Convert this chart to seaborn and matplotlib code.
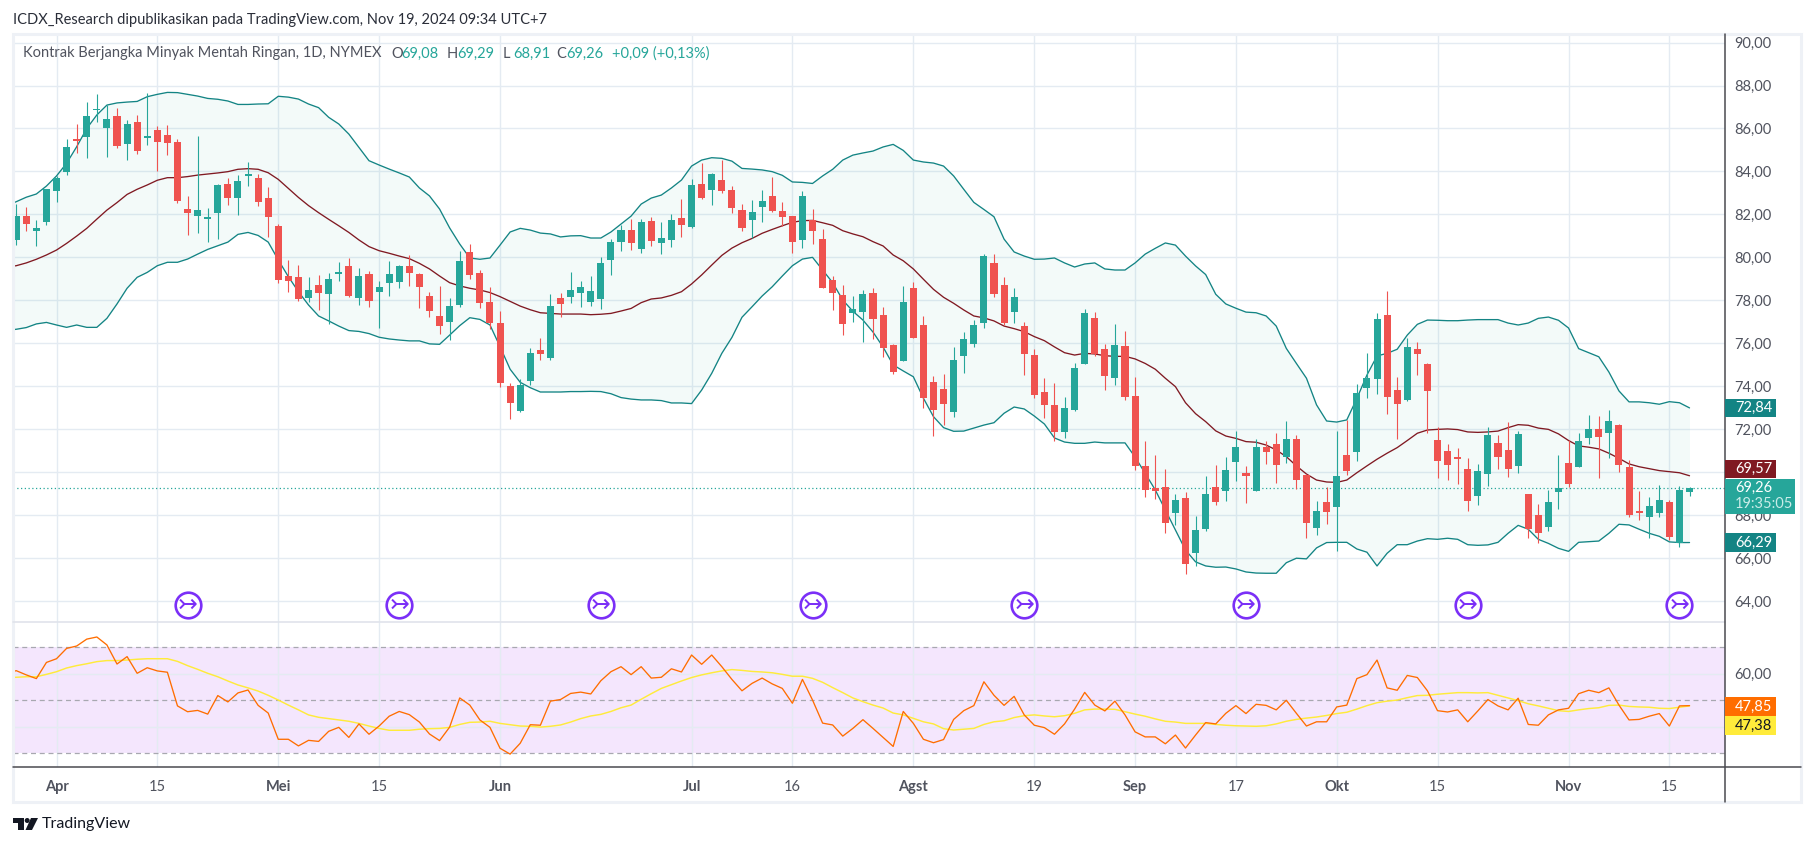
import numpy as np
import pandas as pd
import matplotlib
matplotlib.use("Agg")
import matplotlib.pyplot as plt
from matplotlib.patches import Rectangle, Polygon, Circle
import seaborn as sns

# OHLC of the daily bars, 167 sessions from late March to Nov 19 2024
opens = [
    80.81, 81.92, 81.23, 81.65, 83.09, 83.97, 85.46, 85.60, 86.84, 86.02,
    86.58, 85.28, 86.30, 85.57, 85.93, 85.70, 85.37, 82.25, 81.92, 81.80,
    82.06, 83.41, 82.76, 83.80, 83.69, 82.76, 81.46, 79.13, 79.08, 78.11,
    78.71, 78.29, 79.24, 79.60, 78.11, 79.22, 78.39, 78.81, 78.85, 79.60,
    79.22, 78.20, 77.27, 76.99, 77.78, 80.25, 79.27, 77.92, 76.94, 74.01,
    72.85, 74.24, 75.69, 75.31, 78.11, 78.15, 78.34, 77.92, 78.06, 79.88,
    80.71, 81.27, 80.39, 81.69, 80.67, 80.81, 81.83, 81.40, 83.41, 83.13,
    83.60, 83.13, 82.20, 81.74, 82.34, 82.86, 82.16, 81.92, 80.81, 81.74,
    80.85, 78.94, 78.25, 77.39, 77.45, 78.34, 77.32, 75.92, 75.17, 78.57,
    76.85, 74.20, 73.87, 72.80, 75.41, 75.97, 76.94, 79.74, 78.71, 77.45,
    76.80, 75.45, 73.73, 73.13, 71.87, 72.89, 75.03, 77.18, 75.73, 74.38,
    75.87, 73.54, 70.29, 69.26, 69.31, 68.10, 68.80, 66.24, 67.35, 69.31,
    69.12, 70.47, 69.96, 69.12, 71.17, 71.31, 70.70, 71.54, 69.87, 67.40,
    68.61, 68.38, 70.80, 70.94, 73.92, 74.34, 77.32, 73.82, 73.36, 75.73,
    75.03, 71.50, 70.98, 70.66, 70.15, 68.89, 69.91, 71.36, 71.03, 70.29,
    68.98, 68.00, 67.45, 69.08, 70.43, 70.24, 71.59, 72.01, 71.82, 72.19,
    70.24, 68.14, 67.91, 68.10, 68.61, 66.70, 69.08,
]
highs = [
    82.48, 82.34, 81.74, 83.18, 83.79, 85.51, 86.21, 87.23, 87.60, 87.09,
    86.95, 86.39, 86.63, 87.65, 86.11, 86.16, 85.51, 82.86, 85.65, 82.30,
    83.41, 83.69, 83.83, 84.44, 83.88, 83.27, 81.55, 79.88, 79.64, 79.08,
    79.18, 79.26, 79.78, 79.97, 79.50, 79.36, 78.90, 79.83, 79.64, 80.11,
    79.27, 78.39, 78.67, 78.11, 80.29, 80.62, 79.41, 78.62, 77.50, 74.15,
    74.34, 75.78, 76.24, 78.29, 78.34, 79.32, 78.90, 79.13, 80.02, 80.85,
    81.51, 81.78, 81.78, 81.88, 81.64, 82.02, 82.72, 83.65, 84.39, 83.93,
    84.53, 83.32, 82.48, 82.67, 83.13, 83.74, 82.58, 81.92, 83.09, 82.25,
    81.32, 79.13, 78.71, 78.20, 78.48, 78.57, 77.69, 75.97, 78.67, 78.85,
    77.27, 74.48, 74.57, 75.83, 76.52, 77.08, 80.15, 80.15, 79.08, 78.57,
    76.99, 75.73, 74.38, 74.15, 73.50, 75.08, 77.59, 77.45, 75.97, 76.90,
    76.57, 74.43, 71.45, 70.80, 70.15, 68.98, 69.08, 67.96, 69.82, 70.33,
    70.70, 71.91, 70.29, 71.54, 71.45, 71.82, 72.38, 71.73, 69.91, 68.66,
    69.31, 71.91, 72.43, 74.10, 75.55, 77.41, 78.43, 74.43, 76.24, 76.06,
    75.08, 72.10, 71.31, 71.12, 70.66, 70.38, 72.10, 71.73, 72.33, 71.91,
    68.98, 68.52, 69.17, 70.80, 71.50, 71.82, 72.66, 72.61, 72.89, 72.24,
    70.56, 69.12, 68.84, 69.40, 68.70, 69.35, 69.29,
]
lows = [
    80.57, 81.23, 80.53, 81.51, 82.58, 83.83, 84.86, 84.62, 86.30, 84.67,
    85.09, 84.53, 84.81, 85.23, 84.02, 84.76, 82.53, 81.04, 81.13, 80.71,
    80.85, 82.44, 81.97, 83.32, 82.39, 80.95, 78.81, 78.39, 77.97, 77.92,
    77.55, 76.90, 78.90, 78.15, 77.78, 77.69, 76.71, 78.20, 78.57, 78.67,
    77.64, 77.22, 76.43, 76.15, 77.69, 78.99, 77.64, 76.66, 73.96, 72.47,
    72.80, 74.06, 75.22, 75.22, 77.22, 77.87, 77.69, 77.73, 77.60, 79.18,
    80.29, 80.34, 80.20, 80.53, 80.15, 80.48, 80.95, 81.37, 82.72, 82.44,
    82.99, 82.06, 81.23, 80.90, 81.64, 82.11, 81.46, 80.20, 80.43, 80.62,
    78.57, 77.55, 76.38, 76.99, 76.06, 76.20, 75.36, 74.57, 75.17, 76.24,
    72.99, 71.68, 72.19, 72.57, 74.62, 75.83, 76.71, 78.15, 76.85, 76.94,
    74.52, 73.45, 72.52, 71.45, 71.59, 72.85, 75.03, 75.41, 73.82, 74.06,
    73.36, 70.10, 68.84, 68.75, 67.17, 67.54, 65.26, 65.63, 67.26, 68.47,
    68.66, 69.59, 68.56, 69.12, 70.38, 69.49, 70.43, 69.22, 66.93, 67.07,
    67.59, 66.33, 69.87, 70.52, 73.45, 73.64, 72.71, 71.54, 73.31, 74.52,
    71.82, 69.73, 69.63, 69.45, 68.19, 68.47, 69.35, 70.15, 69.77, 69.96,
    66.93, 66.70, 67.26, 68.28, 69.31, 70.24, 71.31, 69.73, 70.66, 70.00,
    67.91, 67.77, 66.93, 67.91, 66.84, 66.51, 68.91,
]
closes = [
    81.92, 81.55, 81.37, 83.18, 83.69, 85.14, 85.42, 86.58, 86.91, 86.44,
    85.18, 86.21, 84.95, 85.65, 85.37, 85.32, 82.62, 82.06, 82.20, 81.88,
    83.37, 82.76, 83.55, 83.85, 82.58, 81.88, 78.94, 78.90, 78.06, 78.48,
    78.34, 78.99, 79.27, 78.20, 79.13, 77.97, 78.62, 79.22, 79.60, 79.27,
    78.62, 77.50, 76.80, 77.73, 79.83, 79.18, 77.87, 76.94, 74.15, 73.22,
    74.06, 75.55, 75.50, 77.73, 77.83, 78.48, 78.62, 78.43, 79.74, 80.71,
    81.27, 80.67, 81.64, 80.76, 80.90, 81.74, 81.51, 83.37, 82.76, 83.88,
    83.09, 82.30, 81.37, 82.11, 82.62, 82.16, 81.88, 80.71, 82.86, 81.23,
    78.57, 78.34, 76.90, 77.59, 78.29, 77.13, 75.78, 74.66, 77.92, 76.24,
    73.45, 72.89, 73.17, 75.22, 76.20, 76.85, 80.06, 78.29, 76.94, 78.15,
    75.50, 73.59, 73.13, 71.87, 72.99, 74.85, 77.41, 75.50, 74.48, 75.92,
    73.50, 70.29, 69.17, 69.12, 67.63, 68.70, 65.72, 67.31, 68.98, 68.61,
    70.10, 71.17, 69.82, 71.17, 70.94, 70.33, 71.54, 69.63, 67.63, 68.19,
    68.14, 69.82, 70.05, 73.68, 74.38, 77.13, 73.50, 73.17, 75.83, 75.50,
    73.78, 70.52, 70.33, 70.61, 68.66, 70.05, 71.73, 70.70, 70.15, 71.78,
    67.35, 67.17, 68.61, 69.26, 69.45, 71.45, 72.01, 71.64, 72.38, 70.33,
    68.00, 68.10, 68.42, 68.70, 66.98, 69.17, 69.26,
]

# Bollinger bands, first value belongs to the bar just left of the visible range
bb_upper = [
    82.40, 82.59, 82.80, 82.95, 83.32, 83.79, 84.38, 85.15, 86.00, 86.63, 87.09,
    87.19, 87.23, 87.26, 87.48, 87.59, 87.68, 87.67, 87.59, 87.51, 87.40,
    87.36, 87.28, 87.12, 87.12, 87.14, 87.15, 87.50, 87.46, 87.37, 87.14,
    86.97, 86.52, 86.21, 85.74, 85.12, 84.50, 84.30, 84.11, 83.93, 83.74,
    83.23, 82.86, 82.25, 81.37, 80.62, 79.97, 79.91, 79.97, 80.57, 81.18,
    81.35, 81.27, 81.13, 81.09, 80.95, 81.00, 81.01, 80.90, 80.90, 81.18,
    81.55, 81.92, 82.48, 82.76, 82.90, 83.23, 83.60, 84.25, 84.53, 84.64,
    84.61, 84.48, 84.14, 84.11, 84.07, 83.99, 83.82, 83.51, 83.49, 83.44,
    83.79, 84.10, 84.53, 84.76, 84.86, 84.95, 85.14, 85.26, 84.98, 84.53,
    84.44, 84.39, 84.25, 83.79, 83.17, 82.56, 82.23, 81.89, 80.85, 80.25,
    80.06, 79.91, 79.92, 79.97, 79.74, 79.55, 79.69, 79.74, 79.46, 79.41,
    79.41, 79.74, 80.15, 80.42, 80.67, 80.57, 80.06, 79.60, 79.20, 78.28,
    77.83, 77.63, 77.45, 77.42, 77.27, 76.80, 75.76, 75.06, 74.37, 73.13,
    72.38, 72.33, 72.43, 73.43, 74.52, 75.41, 75.53, 75.72, 76.38, 76.88,
    77.08, 77.07, 77.05, 77.05, 77.08, 77.10, 77.10, 77.10, 76.94, 76.85,
    76.94, 77.16, 77.22, 77.07, 76.71, 75.75, 75.56, 75.37, 74.66, 73.78,
    73.27, 73.27, 73.23, 73.16, 73.28, 73.23, 72.99,
]
bb_basis = [
    79.55, 79.61, 79.74, 79.91, 80.11, 80.34, 80.65, 80.99, 81.35, 81.78, 82.20,
    82.55, 82.93, 83.17, 83.37, 83.59, 83.71, 83.71, 83.76, 83.83, 83.88,
    83.93, 83.99, 84.10, 84.13, 84.10, 83.94, 83.63, 83.21, 82.79, 82.41,
    82.08, 81.77, 81.47, 81.16, 80.81, 80.50, 80.31, 80.19, 80.06, 79.94,
    79.72, 79.46, 79.13, 78.82, 78.67, 78.56, 78.48, 78.36, 78.17, 77.95,
    77.73, 77.56, 77.42, 77.39, 77.36, 77.36, 77.36, 77.33, 77.35, 77.39,
    77.50, 77.62, 77.89, 78.06, 78.11, 78.23, 78.40, 78.76, 79.18, 79.64,
    80.09, 80.43, 80.68, 80.88, 81.12, 81.30, 81.47, 81.63, 81.71, 81.72,
    81.61, 81.49, 81.24, 81.09, 80.96, 80.73, 80.53, 80.11, 79.84, 79.46,
    78.98, 78.51, 78.14, 77.86, 77.55, 77.27, 77.18, 77.04, 76.80, 76.68,
    76.54, 76.31, 76.12, 75.83, 75.56, 75.45, 75.53, 75.50, 75.42, 75.39,
    75.39, 75.27, 75.06, 74.79, 74.37, 73.98, 73.23, 72.72, 72.35, 71.92,
    71.68, 71.57, 71.42, 71.39, 71.26, 71.03, 70.72, 70.29, 69.91, 69.63,
    69.54, 69.52, 69.63, 69.97, 70.29, 70.60, 70.88, 71.14, 71.47, 71.81,
    71.96, 71.99, 72.01, 71.98, 71.87, 71.85, 71.87, 71.91, 72.07, 72.21,
    72.18, 72.05, 71.99, 71.78, 71.47, 71.22, 71.16, 71.08, 70.88, 70.64,
    70.38, 70.25, 70.16, 70.07, 70.02, 69.97, 69.83,
]
bb_lower = [
    76.60, 76.65, 76.73, 76.90, 76.97, 76.85, 76.74, 76.85, 76.74, 76.74, 77.16,
    77.83, 78.56, 79.07, 79.30, 79.61, 79.77, 79.77, 79.92, 80.15, 80.37,
    80.54, 80.71, 81.07, 81.16, 81.02, 80.71, 79.88, 79.10, 78.40, 77.78,
    77.27, 77.04, 76.80, 76.59, 76.55, 76.45, 76.28, 76.20, 76.15, 76.11,
    76.11, 75.97, 75.95, 76.38, 76.82, 77.19, 77.11, 76.85, 75.84, 74.79,
    74.18, 73.93, 73.73, 73.73, 73.73, 73.75, 73.75, 73.76, 73.75, 73.65,
    73.47, 73.40, 73.36, 73.36, 73.33, 73.22, 73.22, 73.19, 73.82, 74.60,
    75.53, 76.27, 77.21, 77.70, 78.20, 78.63, 79.13, 79.61, 79.92, 80.00,
    79.41, 78.82, 78.01, 77.49, 77.08, 76.52, 75.82, 74.99, 74.71, 74.44,
    73.44, 72.58, 72.07, 71.90, 71.91, 72.05, 72.19, 72.30, 72.74, 73.03,
    72.94, 72.61, 72.24, 71.59, 71.40, 71.34, 71.34, 71.40, 71.36, 71.36,
    71.36, 70.70, 69.94, 69.17, 68.24, 67.31, 66.37, 65.82, 65.63, 65.57,
    65.58, 65.49, 65.35, 65.30, 65.29, 65.29, 65.78, 65.99, 65.96, 66.47,
    66.72, 66.73, 66.73, 66.42, 66.27, 65.63, 66.22, 66.62, 66.62, 66.79,
    66.90, 66.87, 66.92, 66.87, 66.62, 66.59, 66.61, 66.73, 67.15, 67.52,
    67.34, 66.87, 66.68, 66.45, 66.31, 66.73, 66.76, 66.79, 67.15, 67.57,
    67.54, 67.34, 67.15, 67.01, 66.75, 66.72, 66.72,
]

rsi = [
    60.0, 61.2, 59.6, 58.2, 64.3, 65.7, 69.6, 70.5, 73.1, 73.9, 70.9,
    63.7, 66.5, 60.2, 62.3, 61.1, 60.6, 47.9, 45.7, 46.2, 44.8,
    51.8, 49.4, 52.8, 53.9, 48.1, 45.2, 35.3, 35.3, 32.8, 34.9,
    34.5, 38.3, 39.8, 36.0, 41.1, 37.2, 40.3, 44.0, 45.8, 44.6,
    41.8, 37.3, 34.8, 39.9, 50.9, 48.2, 42.6, 39.8, 31.9, 29.7,
    33.8, 40.8, 40.6, 49.7, 50.3, 52.6, 53.1, 52.4, 57.4, 60.8,
    62.7, 59.7, 62.7, 58.4, 58.7, 61.9, 60.7, 67.1, 63.6, 67.1,
    62.7, 57.9, 53.6, 56.4, 58.4, 56.2, 54.5, 48.9, 57.9, 50.1,
    41.4, 40.7, 36.5, 39.4, 42.7, 39.4, 36.0, 32.6, 45.8, 41.3,
    35.3, 34.0, 35.2, 42.8, 46.1, 48.0, 57.0, 51.9, 48.1, 51.5,
    44.5, 40.6, 39.7, 37.2, 41.1, 46.7, 53.0, 48.2, 46.0, 49.7,
    44.5, 38.1, 36.2, 36.2, 33.6, 36.9, 32.0, 36.9, 41.6, 41.1,
    45.1, 48.0, 45.0, 48.5, 48.1, 46.4, 50.0, 45.1, 40.3, 41.9,
    41.9, 47.5, 48.2, 58.2, 59.7, 65.2, 54.7, 53.8, 59.4, 58.6,
    53.6, 46.1, 45.6, 46.4, 41.9, 46.0, 50.3, 47.9, 46.4, 50.8,
    40.9, 40.6, 44.5, 46.4, 47.0, 52.5, 53.8, 52.9, 54.7, 48.2,
    42.6, 42.8, 44.0, 45.0, 40.3, 47.9, 48.0,
]
rsi_ma = [
    58.6, 58.7, 58.9, 58.9, 59.8, 60.8, 62.2, 63.1, 63.8, 64.6, 65.0,
    65.0, 65.2, 65.5, 65.7, 65.7, 65.7, 64.7, 63.1, 61.7, 60.2,
    58.9, 57.3, 55.8, 54.7, 53.5, 51.9, 50.1, 48.2, 46.4, 44.5,
    43.6, 43.1, 42.6, 42.1, 41.3, 40.3, 39.4, 38.7, 38.7, 38.7,
    39.1, 39.3, 39.4, 39.8, 40.9, 41.7, 41.8, 42.1, 41.3, 40.8,
    40.3, 40.2, 39.9, 40.2, 40.7, 41.8, 43.1, 44.1, 44.7, 45.8,
    47.2, 48.2, 50.4, 52.5, 54.5, 55.9, 57.3, 58.6, 59.6, 60.4,
    61.1, 61.6, 61.3, 60.9, 60.7, 60.4, 59.8, 59.1, 59.1, 58.3,
    56.8, 54.8, 52.9, 50.9, 49.5, 48.2, 47.1, 45.2, 44.5, 43.2,
    41.9, 41.1, 39.3, 38.8, 39.1, 39.4, 40.9, 41.9, 42.3, 43.5,
    44.2, 44.5, 44.1, 43.8, 44.2, 45.1, 46.4, 46.7, 46.7, 46.6,
    45.7, 44.8, 44.0, 43.0, 42.1, 41.8, 41.3, 41.3, 41.3, 40.9,
    40.6, 40.4, 40.3, 40.2, 40.4, 41.1, 42.1, 42.8, 43.3, 43.7,
    44.3, 45.0, 45.5, 46.7, 48.0, 49.1, 49.7, 50.1, 51.0, 51.8,
    51.9, 52.3, 52.6, 52.9, 52.9, 52.8, 52.9, 51.9, 50.9, 49.9,
    48.7, 47.9, 47.0, 46.1, 45.8, 46.4, 46.9, 47.2, 48.1, 48.2,
    47.7, 47.5, 47.4, 47.0, 46.9, 47.4, 47.9,
]

date_ticks = [4, 14, 26, 36, 48, 67, 77, 89, 101, 111, 121, 131, 141, 154, 164]
date_labels = ["Apr", "15", "Mei", "15", "Jun", "Jul", "16", "Agst", "19", "Sep",
               "17", "Okt", "15", "Nov", "15"]
event_bars = [17, 38, 58, 79, 100, 122, 144, 165]
event_level = 63.8
price_ticks = list(range(64, 92, 2))
# 70 and 40 sit behind the value tags in the reference, their labels stay blank
hidden_ticks = [70, 40]
rsi_ticks = [40, 60]

GREEN = "#26a69a"
RED = "#ef5350"
TEAL = "#138484"
MAROON = "#801922"
GRID = "#e4ebf2"
BORDER = "#eef1f6"
AXIS_DARK = "#4a4a50"
TEXT = "#50535e"
FONT = "Lato"

W, H = 1814, 846

sns.set_theme(style="white")
plt.rcParams["font.family"] = [FONT, "DejaVu Sans"]

fig = plt.figure(figsize=(W / 100, H / 100), dpi=100, facecolor="white")


def px_axes(left, top, right, bottom, **kw):
    return fig.add_axes([left / W, 1 - bottom / H, (right - left) / W, (bottom - top) / H], **kw)


def tick_text(v):
    return "" if v in hidden_ticks else f"{v:.2f}".replace(".", ",")


ax = px_axes(13, 34, 1725, 622)
ax_rsi = px_axes(13, 622, 1725, 767, sharex=ax)
over = fig.add_axes([0, 0, 1, 1], facecolor="none", zorder=10)
over.set_xlim(0, W)
over.set_ylim(H, 0)
over.axis("off")

bars = np.arange(len(closes))
line_bars = np.arange(-1, len(closes))
bands = pd.DataFrame({"bar": line_bars, "upper": bb_upper, "basis": bb_basis, "lower": bb_lower})
osc = pd.DataFrame({"bar": line_bars, "rsi": rsi, "ma": rsi_ma})

# bands go under the candles
ax.fill_between(bands["bar"], bands["lower"], bands["upper"], color=GREEN, alpha=0.055, lw=0, zorder=1)
sns.lineplot(data=bands, x="bar", y="upper", ax=ax, color=TEAL, lw=0.95, errorbar=None, zorder=2)
sns.lineplot(data=bands, x="bar", y="lower", ax=ax, color=TEAL, lw=0.95, errorbar=None, zorder=2)
sns.lineplot(data=bands, x="bar", y="basis", ax=ax, color=MAROON, lw=0.95, errorbar=None, zorder=2)

o = np.array(opens)
c = np.array(closes)
colors = np.where(c >= o, GREEN, RED)
ax.vlines(bars, lows, highs, colors=colors, lw=0.8, zorder=3)
body = np.maximum(np.abs(c - o), 0.07)
ax.bar(bars, body, bottom=np.minimum(o, c), width=0.7, color=colors, lw=0, zorder=4)

ax.axhline(closes[-1], color=GREEN, lw=0.9, ls=(0, (1, 2)), zorder=2)

# split-arrow markers near the bottom of the price pane
ax.scatter(event_bars, [event_level] * len(event_bars), s=340, facecolor="white",
           edgecolor="#7b2ff7", lw=1.9, zorder=5, clip_on=False)
for b in event_bars:
    ax.text(b, event_level, "\u21a3", color="#7b2ff7", ha="center", va="center",
            fontsize=17, family="DejaVu Sans", zorder=6)

# rsi pane
ax_rsi.axhspan(30, 70, color="#f4e6fd", lw=0, zorder=0)
for level in [30, 50, 70]:
    ax_rsi.axhline(level, color="#a8a8b0", lw=0.9, ls=(0, (4, 3)), zorder=1.5)
sns.lineplot(data=osc, x="bar", y="ma", ax=ax_rsi, color="#ffeb3b", lw=1.05, errorbar=None, zorder=3)
sns.lineplot(data=osc, x="bar", y="rsi", ax=ax_rsi, color="#ff6d00", lw=0.95, errorbar=None, zorder=4)

ax.set_xlim(-0.317, 169.52)
ax.set_ylim(63.02, 90.40)
ax_rsi.set_ylim(24.84, 79.56)

for a in (ax, ax_rsi):
    a.set_xlabel("")
    a.set_ylabel("")
    a.set_xticks(date_ticks)
    a.grid(True, color=GRID, lw=1.0, zorder=0)
    a.set_axisbelow(True)
    a.yaxis.tick_right()
    a.tick_params(axis="both", length=0)
    for s in a.spines.values():
        s.set_visible(False)

ax.tick_params(axis="x", labelbottom=False)
ax.set_yticks(price_ticks)
ax.set_yticklabels([tick_text(v) for v in price_ticks], fontsize=10.5, color=TEXT)
ax_rsi.set_yticks(rsi_ticks)
ax_rsi.set_yticklabels([tick_text(v) for v in rsi_ticks], fontsize=10.5, color=TEXT)
ax.tick_params(axis="y", pad=7)
ax_rsi.tick_params(axis="y", pad=7)

ax_rsi.set_xticklabels(date_labels, fontsize=10.5, color=TEXT)
ax_rsi.tick_params(axis="x", pad=9)
for lab, txt in zip(ax_rsi.get_xticklabels(), date_labels):
    if not txt.isdigit():
        lab.set_fontweight("bold")

# frame of the widget
over.add_patch(Rectangle((13, 34), 1788, 768, fill=False, ec=BORDER, lw=2.2))
over.plot([13, 1725], [622, 622], color="#e0e3eb", lw=1.2)
over.plot([13, 1801], [767, 767], color=AXIS_DARK, lw=1.1)
over.plot([1725, 1725], [34, 802], color=AXIS_DARK, lw=1.1)


def tag(y_px, text, face, fg="white", x1=1776, h=18.5):
    over.add_patch(Rectangle((1725, y_px - h / 2), x1 - 1725, h, fc=face, ec="none", zorder=5))
    over.text(1735, y_px, text, color=fg, fontsize=10.5, va="center", ha="left", zorder=6)


def y_of(a, value):
    return H - a.transData.transform((0, value))[1]


tag(y_of(ax, bb_upper[-1]), "72,84", TEAL)
tag(y_of(ax, bb_basis[-1]) - 7, "69,57", MAROON)
tag(y_of(ax, bb_lower[-1]), "66,29", TEAL)

# last price tag with countdown
over.add_patch(Rectangle((1725, 479), 70, 35, fc=GREEN, ec="none", zorder=5))
over.text(1735, 487.5, "69,26", color="white", fontsize=10.5, va="center", zorder=6)
over.text(1735, 504, "19:35:05", color="#c9ece8", fontsize=10.5, va="center", zorder=6)

tag(706.5, "47,85", "#ff6d00")
tag(725.5, "47,38", "#ffeb3b", fg="#131722")

# header texts
fig.text(13 / W, 1 - 20 / H, "ICDX_Research dipublikasikan pada TradingView.com, Nov 19, 2024 09:34 UTC+7",
         fontsize=10.5, color="#2a2e39", va="center")
head_y = 1 - 53.5 / H
fig.text(23 / W, head_y, "Kontrak Berjangka Minyak Mentah Ringan, 1D, NYMEX",
         fontsize=10.5, color=TEXT, va="center", zorder=20)
for x, key, val in [(391, "O", "69,08"), (447, "H", "69,29"), (503, "L", "68,91"), (556, "C", "69,26")]:
    fig.text(x / W, head_y, key, fontsize=10.5, color=TEXT, va="center", zorder=20)
    fig.text((x + 10) / W, head_y, val, fontsize=10.5, color=GREEN, va="center", zorder=20)
fig.text(612 / W, head_y, "+0,09 (+0,13%)", fontsize=10.5, color=GREEN, va="center", zorder=20)

# logo in the footer
over.add_patch(Polygon([(13, 818), (24, 818), (24, 830), (18, 830), (18, 823), (13, 823)], fc="#131722", ec="none"))
over.add_patch(Circle((27.2, 820.5), 2.5, fc="#131722", ec="none"))
over.add_patch(Polygon([(31, 818), (38, 818), (32, 830), (25.5, 830)], fc="#131722", ec="none"))
fig.text(42 / W, 1 - 824 / H, "TradingView", fontsize=11.5, color="#131722", va="center")

fig.savefig("out.png", dpi=100)
